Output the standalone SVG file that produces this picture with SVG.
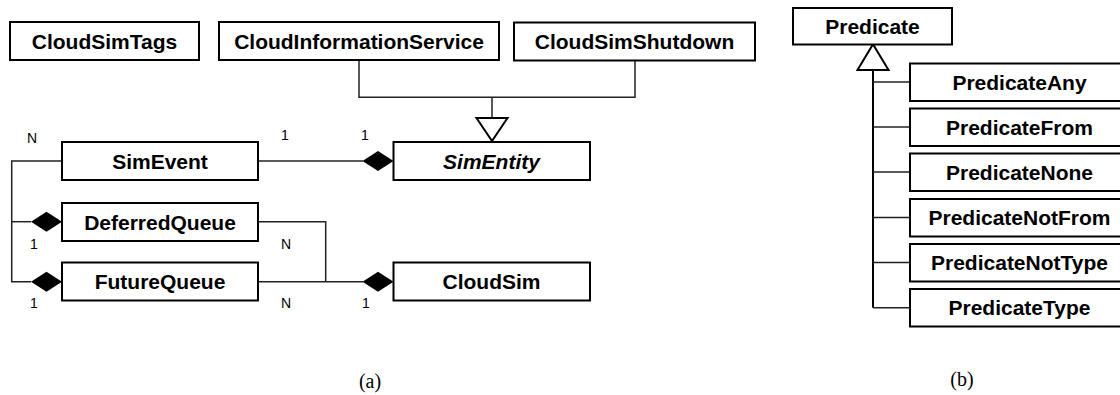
<svg xmlns="http://www.w3.org/2000/svg" width="1120" height="395" viewBox="0 0 1120 395">
<style>
.box{fill:#fff;stroke:#000;stroke-width:2}
.lbl{font-family:"Liberation Sans",Arial,sans-serif;font-weight:bold;font-size:21px;text-anchor:middle;fill:#000}
.it{font-style:italic}
.mul{font-family:"Liberation Sans",Arial,sans-serif;font-size:14px;text-anchor:middle;fill:#000}
.cap{font-family:"Liberation Serif","Times New Roman",serif;font-size:20px;text-anchor:middle;fill:#000}
.ln{fill:none;stroke:#222;stroke-width:1.5}
.tri{fill:#fff;stroke:#000;stroke-width:2}
.dia{fill:#000;stroke:none}
</style>
<rect width="1120" height="395" fill="#fff"/>
<g id="connectors">
  <polyline class="ln" points="359,60 359,97.3 635,97.3 635,60.7"/>
  <line class="ln" x1="492" y1="97.3" x2="492" y2="118"/>
  <polygon class="tri" points="476.5,118 507.5,118 492,141"/>
  <line class="ln" x1="258" y1="161" x2="363" y2="161"/>
  <polygon class="dia" points="362.5,161 378,151 393.5,161 378,171"/>
  <polyline class="ln" points="62,161 11.7,161 11.7,281.7 31,281.7"/>
  <line class="ln" x1="11.7" y1="221.7" x2="31" y2="221.7"/>
  <polygon class="dia" points="31,221.7 46.5,211.7 62,221.7 46.5,231.7"/>
  <polygon class="dia" points="31,281.7 46.5,271.7 62,281.7 46.5,291.7"/>
  <polyline class="ln" points="258,221.7 325.7,221.7 325.7,281.7"/>
  <line class="ln" x1="258" y1="281.7" x2="363" y2="281.7"/>
  <polygon class="dia" points="362.5,281.7 378,271.7 393.5,281.7 378,291.7"/>
  <line class="ln" x1="873" y1="70" x2="873" y2="307.7" style="stroke-width:2;stroke:#000"/>
  <polygon class="tri" points="857.5,70 888.5,70 873,44.3"/>
  <line class="ln" x1="873" y1="82" x2="910" y2="82"/>
  <line class="ln" x1="873" y1="127" x2="910" y2="127"/>
  <line class="ln" x1="873" y1="172" x2="910" y2="172"/>
  <line class="ln" x1="873" y1="217.5" x2="910" y2="217.5"/>
  <line class="ln" x1="873" y1="262.5" x2="910" y2="262.5"/>
  <line class="ln" x1="873" y1="307.7" x2="910" y2="307.7"/>
  <text class="mul" x="32" y="142.5">N</text>
  <text class="mul" x="285" y="139.5">1</text>
  <text class="mul" x="365" y="139.5">1</text>
  <text class="mul" x="34" y="249">1</text>
  <text class="mul" x="34" y="308">1</text>
  <text class="mul" x="286" y="249">N</text>
  <text class="mul" x="286" y="308">N</text>
  <text class="mul" x="366" y="308">1</text>
</g>
<g id="CloudSimTags"><rect class="box" x="10" y="22" width="189" height="38"/><text class="lbl" x="104.5" y="48.5">CloudSimTags</text></g>
<g id="CloudInformationService"><rect class="box" x="219" y="22" width="280" height="38"/><text class="lbl" x="359" y="48.5">CloudInformationService</text></g>
<g id="CloudSimShutdown"><rect class="box" x="514" y="22.5" width="241" height="38"/><text class="lbl" x="634.5" y="49">CloudSimShutdown</text></g>
<g id="SimEvent"><rect class="box" x="62" y="142" width="196" height="38"/><text class="lbl" x="160" y="168.5">SimEvent</text></g>
<g id="SimEntity"><rect class="box" x="393.5" y="142" width="196.5" height="38"/><text class="lbl it" x="491.5" y="168.5">SimEntity</text></g>
<g id="DeferredQueue"><rect class="box" x="62" y="203" width="196" height="38"/><text class="lbl" x="160" y="229.5">DeferredQueue</text></g>
<g id="FutureQueue"><rect class="box" x="62" y="262.5" width="196" height="38"/><text class="lbl" x="160" y="289">FutureQueue</text></g>
<g id="CloudSim"><rect class="box" x="393.5" y="262.5" width="196.5" height="38"/><text class="lbl" x="491.5" y="289">CloudSim</text></g>
<g id="Predicate"><rect class="box" x="793" y="8" width="159" height="36.5"/><text class="lbl" x="872.5" y="33.5">Predicate</text></g>
<g id="PredicateAny"><rect class="box" x="910" y="63.5" width="220" height="37.5"/><text class="lbl" x="1019.5" y="89.5">PredicateAny</text></g>
<g id="PredicateFrom"><rect class="box" x="910" y="108.5" width="220" height="37.5"/><text class="lbl" x="1019.5" y="134.5">PredicateFrom</text></g>
<g id="PredicateNone"><rect class="box" x="910" y="153.5" width="220" height="37.5"/><text class="lbl" x="1019.5" y="179.5">PredicateNone</text></g>
<g id="PredicateNotFrom"><rect class="box" x="910" y="199" width="220" height="37.5"/><text class="lbl" x="1019.5" y="225">PredicateNotFrom</text></g>
<g id="PredicateNotType"><rect class="box" x="910" y="244" width="220" height="37.5"/><text class="lbl" x="1019.5" y="270">PredicateNotType</text></g>
<g id="PredicateType"><rect class="box" x="910" y="289" width="220" height="37.5"/><text class="lbl" x="1019.5" y="315">PredicateType</text></g>
<text class="cap" x="370" y="388">(a)</text>
<text class="cap" x="962" y="386">(b)</text>
</svg>
